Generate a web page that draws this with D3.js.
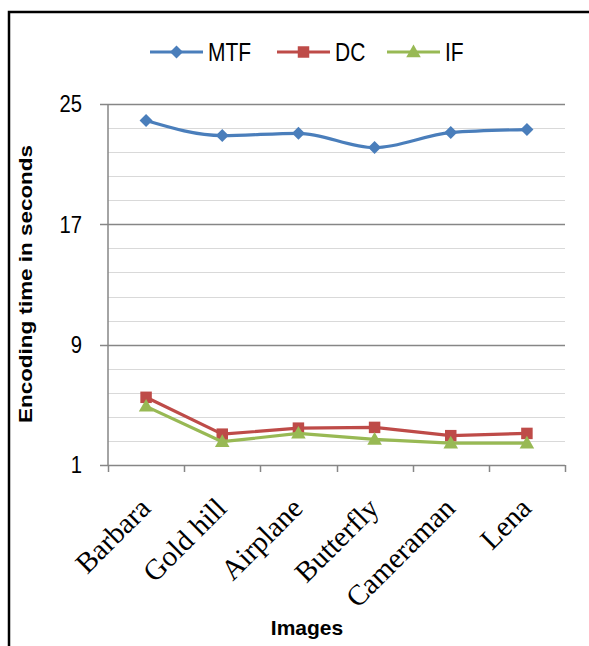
<!DOCTYPE html>
<html>
<head>
<meta charset="utf-8">
<script src="https://cdn.jsdelivr.net/npm/d3@7"></script>
<style>
  html, body { margin: 0; padding: 0; background: #fff; }
  svg { display: block; }
</style>
</head>
<body>
<svg id="chart" width="589" height="646"></svg>
<script>
// Encoding time per test image for three coders
const categories = ["Barbara", "Gold hill", "Airplane", "Butterfly", "Cameraman", "Lena"];
const mtfValues = [23.9, 22.9, 23.05, 22.1, 23.1, 23.3];
const dcValues  = [5.5, 3.05, 3.45, 3.5, 2.95, 3.1];
const ifValues  = [4.9, 2.55, 3.1, 2.7, 2.45, 2.45];
const seriesNames = ["MTF", "DC", "IF"];
const seriesColors = ["#4a7ebb", "#be4b48", "#98b954"];
const yMajorTicks = [1, 9, 17, 25];
const yMinorStep = 1.6;
const yTitle = "Encoding time in seconds";
const xTitle = "Images";

const series = [
  { name: seriesNames[0], values: mtfValues, color: seriesColors[0], marker: "diamond", smooth: true },
  { name: seriesNames[1], values: dcValues,  color: seriesColors[1], marker: "square", smooth: false },
  { name: seriesNames[2], values: ifValues,  color: seriesColors[2], marker: "triangle", smooth: false }
];

const svg = d3.select("#chart");
const plot = { left: 108, right: 565, top: 104, bottom: 465 };

const x = d3.scaleBand().domain(categories).range([plot.left, plot.right]).padding(0);
const y = d3.scaleLinear().domain([1, 25]).range([plot.bottom, plot.top]);
const cx = d => x(d) + x.bandwidth() / 2;

const sans = "'Liberation Sans', Arial, sans-serif";
const serif = "'Liberation Serif', 'Book Antiqua', Palatino, serif";

// outer frame (left and top edges)
svg.append("path")
  .attr("d", "M9,646V12H589")
  .attr("fill", "none")
  .attr("stroke", "#000")
  .attr("stroke-width", 2.5);

// minor gridlines
const minorTicks = d3.range(1, 25 + 1e-9, yMinorStep)
  .filter(v => !yMajorTicks.some(t => Math.abs(t - v) < 1e-6));
svg.append("g").selectAll("line").data(minorTicks).join("line")
  .attr("x1", plot.left).attr("x2", plot.right)
  .attr("y1", d => Math.round(y(d)) + 0.5).attr("y2", d => Math.round(y(d)) + 0.5)
  .attr("stroke", "#d9d9d9").attr("stroke-width", 1);

// major gridlines with ticks
svg.append("g").selectAll("line").data(yMajorTicks).join("line")
  .attr("x1", plot.left - 8).attr("x2", plot.right)
  .attr("y1", d => Math.round(y(d)) + 0.5).attr("y2", d => Math.round(y(d)) + 0.5)
  .attr("stroke", "#868686").attr("stroke-width", 1.5);

// y axis line
svg.append("line")
  .attr("x1", plot.left).attr("x2", plot.left)
  .attr("y1", plot.top).attr("y2", plot.bottom)
  .attr("stroke", "#868686").attr("stroke-width", 1.5);

// x axis ticks at category boundaries
const boundaries = categories.map(c => x(c)).concat([plot.right]);
svg.append("g").selectAll("line").data(boundaries).join("line")
  .attr("x1", d => Math.round(d) + 0.5).attr("x2", d => Math.round(d) + 0.5)
  .attr("y1", plot.bottom).attr("y2", plot.bottom + 7)
  .attr("stroke", "#868686").attr("stroke-width", 1.5);

// y tick labels (condensed)
svg.append("g").selectAll("text").data(yMajorTicks).join("text")
  .attr("transform", d => `translate(82,${y(d)}) scale(0.88,1)`)
  .attr("dy", "0.36em")
  .attr("text-anchor", "end")
  .attr("font-family", sans)
  .attr("font-size", 23)
  .attr("fill", "#000")
  .text(d => d);

// x category labels, rotated
svg.append("g").selectAll("text").data(categories).join("text")
  .attr("transform", d => `translate(${cx(d) + 6},${510}) rotate(-45)`)
  .attr("text-anchor", "end")
  .attr("font-family", serif)
  .attr("font-size", 29)
  .attr("fill", "#000")
  .text(d => d);

// axis titles
svg.append("text")
  .attr("transform", `translate(32,${284}) rotate(-90)`)
  .attr("text-anchor", "middle")
  .attr("font-family", sans)
  .attr("font-weight", "bold")
  .attr("font-size", 19)
  .attr("textLength", 278)
  .attr("lengthAdjust", "spacingAndGlyphs")
  .text(yTitle);

svg.append("text")
  .attr("x", 307).attr("y", 635)
  .attr("text-anchor", "middle")
  .attr("font-family", sans)
  .attr("font-weight", "bold")
  .attr("font-size", 21)
  .text(xTitle);

// marker shapes
function markerPath(kind) {
  if (kind === "diamond") {
    const r = 6.5;
    return `M0,${-r}L${r},0L0,${r}L${-r},0Z`;
  }
  if (kind === "square") return d3.symbol(d3.symbolSquare, 132)();
  return d3.symbol(d3.symbolTriangle, 92)();
}

// series lines and markers
const lineSmooth = d3.line()
  .x((d, i) => cx(categories[i]))
  .y(d => y(d))
  .curve(d3.curveMonotoneX);
const lineStraight = d3.line()
  .x((d, i) => cx(categories[i]))
  .y(d => y(d));

const gSeries = svg.append("g").selectAll("g").data(series).join("g");
gSeries.append("path")
  .attr("d", d => (d.smooth ? lineSmooth : lineStraight)(d.values))
  .attr("fill", "none")
  .attr("stroke", d => d.color)
  .attr("stroke-width", 3.2)
  .attr("stroke-linejoin", "round");
gSeries.each(function (s) {
  d3.select(this).selectAll(".mk").data(s.values).join("path")
    .attr("class", "mk")
    .attr("transform", (d, i) => `translate(${cx(categories[i])},${y(d) + (s.marker === "triangle" ? 1 : 0)})`)
    .attr("d", markerPath(s.marker))
    .attr("fill", s.color);
});

// legend
const legendItems = [
  { s: series[0], x0: 150 },
  { s: series[1], x0: 277 },
  { s: series[2], x0: 387 }
];
const legendY = 52;
const lg = svg.append("g").selectAll("g").data(legendItems).join("g")
  .attr("transform", d => `translate(${d.x0},${legendY})`);
lg.append("line")
  .attr("x1", 0).attr("x2", 53).attr("y1", 0).attr("y2", 0)
  .attr("stroke", d => d.s.color).attr("stroke-width", 3);
lg.append("path")
  .attr("transform", d => `translate(26.5,${d.s.marker === "triangle" ? 1 : 0})`)
  .attr("d", d => markerPath(d.s.marker))
  .attr("fill", d => d.s.color);
lg.append("text")
  .attr("transform", "translate(58,0) scale(0.84,1)")
  .attr("dy", "0.36em")
  .attr("font-family", sans)
  .attr("font-size", 25)
  .attr("fill", "#000")
  .text(d => d.s.name);
</script>
</body>
</html>
